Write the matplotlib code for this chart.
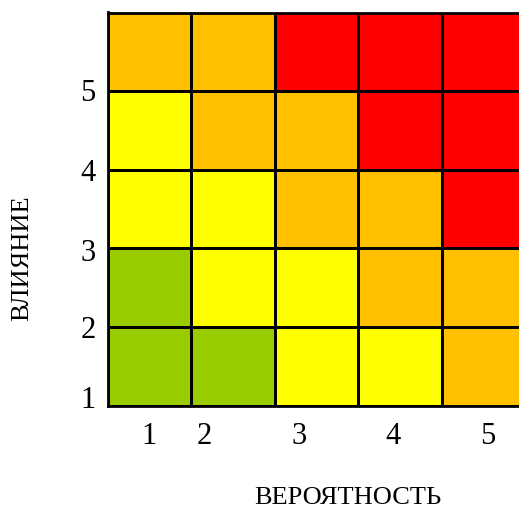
import numpy as np
import matplotlib
matplotlib.use('Agg')
import matplotlib.pyplot as plt
from matplotlib.colors import ListedColormap, BoundaryNorm

# risk level per cell, rows bottom (impact 1) to top (impact 5), cols prob 1..5
# 0 = green, 1 = yellow, 2 = orange, 3 = red
levels = [
    [0, 0, 1, 1, 2],
    [0, 1, 1, 2, 2],
    [1, 1, 2, 2, 3],
    [1, 2, 2, 3, 3],
    [2, 2, 3, 3, 3],
]
level_colors = ["#99CC00", "#FFFF00", "#FFC000", "#FF0000"]
tick_labels = ["1", "2", "3", "4", "5"]
x_label = "ВЕРОЯТНОСТЬ"
y_label = "ВЛИЯНИЕ"

plt.rcParams["font.family"] = ["Liberation Serif", "DejaVu Serif"]

fig = plt.figure(figsize=(5.19, 5.09), dpi=100)
W, H = 519, 509
ax = fig.add_axes([108 / W, (H - 405.5) / H, 417 / W, 393 / H])

cmap = ListedColormap(level_colors)
norm = BoundaryNorm(np.arange(-0.5, len(level_colors)), cmap.N)
ax.pcolormesh(np.array(levels), cmap=cmap, norm=norm,
              edgecolors="black", linewidth=2.0)
ax.set_xlim(0, 5); ax.set_ylim(0, 5)
for s in ax.spines.values():
    s.set_linewidth(2.0)

# tick labels sit at odd offsets in the original
ax.set_xticks([0.49, 1.16, 2.29, 3.42, 4.55], tick_labels)
ax.set_yticks([0.11, 1.0, 1.98, 3.0, 4.01], tick_labels)
ax.tick_params(length=0, labelsize=22)
ax.tick_params(axis="x", pad=12)
ax.tick_params(axis="y", pad=9)

ax.set_xlabel(x_label, fontsize=19)
ax.xaxis.set_label_coords(0.5755, -0.207)
ax.set_ylabel(y_label, fontsize=19)
ax.yaxis.set_label_coords(-0.180, 0.375)

fig.savefig("out.png", dpi=100)
